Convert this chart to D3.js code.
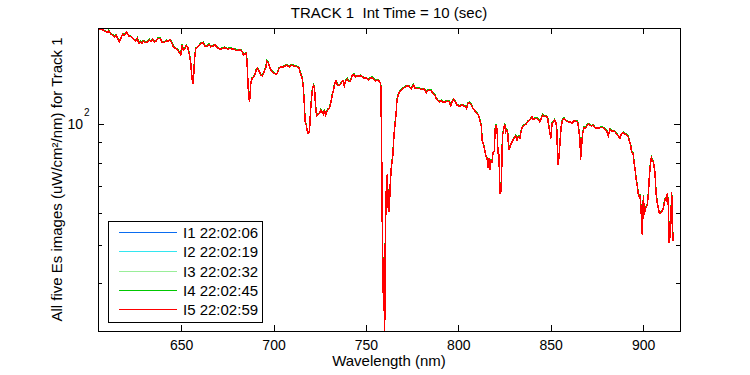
<!DOCTYPE html>
<html>
<head>
<meta charset="utf-8">
<script src="https://cdn.jsdelivr.net/npm/d3@7"></script>
<style>
  body { margin: 0; background: #fff; }
  svg { font-family: "Liberation Sans", Arial, sans-serif; }
  .axis text { font-size: 14px; fill: #000; }
  .axis line { stroke: #000; shape-rendering: crispEdges; }
  .label { font-size: 15px; fill: #000; white-space: pre; }
  .legend text { font-size: 15px; fill: #000; }
</style>
</head>
<body>
<svg></svg>
<script>
// wavelengths (nm)
const wavelengths = [
  605.4,606.5,607.5,608.4,610.3,610.8,612.0,613.0,613.8,614.8,
  615.7,616.5,617.5,618.4,619.2,620.5,621.6,622.9,624.1,625.2,
  626.3,627.0,627.9,628.8,629.5,630.6,631.9,632.8,633.7,634.6,
  635.5,636.4,637.5,638.6,639.7,640.9,642.2,643.3,644.0,645.1,
  645.8,646.9,648.2,649.0,649.8,650.5,651.2,652.0,652.7,653.6,
  654.5,655.2,655.7,656.3,656.8,657.3,657.9,658.8,659.7,660.6,
  661.9,662.8,663.9,665.1,666.0,667.3,668.4,669.6,671.1,672.3,
  673.6,675.0,676.5,677.8,679.0,680.1,681.4,682.3,683.2,683.7,
  684.5,685.2,685.6,685.9,686.4,687.0,687.3,687.7,688.4,689.1,
  689.9,690.6,691.3,692.2,693.1,694.0,694.9,695.8,696.4,697.1,
  697.8,698.6,699.4,700.3,701.3,702.1,703.0,704.0,705.4,707.2,
  708.5,709.7,711.0,712.8,713.7,714.6,715.5,716.1,716.6,717.1,
  717.7,718.2,718.8,719.5,720.0,720.6,721.1,721.7,722.2,722.7,
  723.3,724.0,724.9,725.6,726.3,727.0,727.6,728.1,728.9,729.6,
  730.3,731.1,731.8,732.5,733.0,733.8,734.6,735.7,736.8,737.6,
  738.3,739.0,739.9,740.8,741.7,742.6,743.5,744.4,745.3,746.2,
  747.1,748.0,748.9,750.2,751.3,752.3,753.4,754.3,755.2,756.1,
  757.1,757.8,758.1,758.5,758.8,759.4,759.9,760.1,760.5,761.0,
  761.6,762.1,762.6,763.2,763.7,764.6,765.2,765.7,766.3,766.8,
  767.5,768.2,769.1,770.1,771.1,772.2,773.1,773.6,774.6,775.3,
  775.8,776.7,777.6,778.9,779.8,780.9,782.0,782.7,783.4,784.5,
  785.4,786.3,787.2,788.1,789.0,789.9,790.8,791.7,793.5,794.4,
  795.3,795.8,796.6,797.5,798.4,799.3,800.2,801.1,802.0,802.9,
  804.0,804.5,805.3,806.0,806.9,807.8,808.7,809.4,810.1,810.9,
  811.4,811.9,812.5,812.9,813.4,814.0,814.5,815.0,815.6,816.1,
  816.6,817.2,817.7,818.2,818.8,819.5,819.9,820.4,821.0,821.5,
  822.0,822.4,822.7,823.3,823.7,824.0,824.6,825.1,825.7,826.2,
  826.7,827.1,827.6,828.2,828.9,829.6,830.4,831.1,831.8,832.5,
  833.3,834.0,834.7,835.6,836.6,837.5,838.4,839.3,839.9,840.6,
  841.5,842.6,843.4,844.2,844.9,845.6,846.5,847.4,848.3,848.9,
  849.6,850.2,850.7,851.4,852.1,852.9,853.4,853.7,854.1,854.6,
  855.2,855.7,856.4,857.3,858.2,859.3,860.4,861.5,862.6,863.7,
  864.6,865.1,865.9,866.2,866.6,867.3,868.1,868.8,869.5,870.3,
  871.3,872.1,873.1,874.0,874.9,876.7,877.6,879.0,880.3,881.2,
  882.1,883.0,883.9,884.8,885.7,886.6,887.5,888.1,888.8,889.5,
  890.3,891.1,892.0,892.7,893.3,893.8,894.6,895.1,895.7,896.2,
  896.9,897.5,898.0,898.5,899.1,899.6,900.2,900.7,901.3,901.8,
  902.3,902.9,903.4,904.0,904.5,905.0,905.7,906.5,907.0,907.6,
  908.3,908.8,909.4,910.1,911.0,911.6,912.1,912.6,913.2,913.7,
  914.1,914.4,914.8,915.2,915.5,915.9,916.3
];

// I5 (red, drawn on top)
const i5Values = [
  172.3,172.3,172.1,170.9,169.5,171.1,167.6,166.9,165.2,166.9,
  163.1,160.5,164.4,167.6,166.9,169.5,166.2,165.2,163.1,161.2,
  163.8,159.1,160.5,159.1,161.2,160.0,160.5,162.2,160.5,162.8,
  160.5,161.2,163.8,163.8,160.0,160.0,161.5,161.2,162.2,159.1,
  156.0,154.6,153.1,150.8,148.8,157.6,153.1,154.0,157.0,155.2,
  148.8,141.8,132.9,125.8,132.9,145.9,154.6,155.2,157.0,159.1,
  159.6,156.7,156.0,158.2,156.0,156.7,157.6,155.2,153.7,154.6,
  155.2,154.0,154.6,154.0,153.7,152.5,153.1,153.1,151.1,148.8,
  149.6,150.2,144.5,135.1,120.4,113.3,118.2,126.4,130.2,130.7,
  132.6,136.5,137.8,135.7,132.6,131.8,135.1,138.3,143.7,142.6,
  139.0,136.5,135.1,133.9,133.1,133.9,137.8,139.0,139.0,140.4,
  139.0,140.4,139.8,139.0,138.2,133.9,130.2,124.0,113.7,101.3,
  99.4,96.1,94.8,96.1,107.3,116.4,122.8,124.7,122.8,111.6,
  104.9,105.7,106.4,108.4,107.0,105.7,108.4,105.3,107.3,109.0,
  109.5,113.7,118.2,121.6,125.7,128.1,125.2,124.7,127.1,128.1,
  124.7,128.1,129.6,127.6,128.1,132.1,133.1,131.3,131.8,131.8,
  132.1,131.3,130.2,130.2,128.8,130.2,130.7,129.6,128.1,128.8,
  128.1,126.4,124.0,89.5,59.3,37.7,36.0,27.0,51.8,67.6,
  74.9,61.6,60.4,71.0,77.5,83.7,93.9,99.4,105.3,114.8,
  118.2,120.5,121.6,122.8,123.5,124.5,124.5,123.5,122.3,124.5,
  125.2,122.8,122.8,122.8,122.1,122.3,121.6,119.9,121.1,121.6,
  121.1,119.3,118.2,115.9,114.3,113.7,114.3,113.5,113.7,114.1,
  113.7,110.5,113.7,115.3,113.7,111.6,111.0,111.0,111.6,111.0,
  110.5,109.5,112.7,113.1,112.0,109.5,108.4,107.3,106.4,105.3,
  103.3,101.3,98.5,91.2,89.5,87.5,85.3,82.8,82.0,77.5,
  82.0,77.0,81.3,79.8,84.8,85.3,96.6,99.4,97.0,84.5,
  83.7,72.4,66.8,68.4,86.1,93.9,97.0,100.0,95.7,96.6,
  95.7,89.5,86.1,88.6,89.8,91.2,92.4,93.4,91.2,93.0,
  92.1,95.7,98.5,99.4,99.8,101.3,101.9,103.3,104.3,102.7,
  103.3,103.3,102.7,101.3,103.3,105.3,104.3,104.7,103.9,99.4,
  94.8,92.1,100.4,101.3,102.3,100.8,95.7,83.7,79.0,83.7,
  92.1,98.5,102.7,103.3,101.9,101.3,101.3,100.4,101.9,101.7,
  101.3,97.6,91.2,81.3,86.9,94.8,98.1,97.6,98.9,100.0,
  99.4,98.9,99.4,97.9,97.6,97.9,98.1,97.6,96.2,93.3,
  97.0,96.2,96.2,95.7,94.4,93.3,92.1,93.9,94.8,95.1,
  94.4,93.9,93.0,90.3,88.6,85.2,84.5,80.5,77.0,73.1,
  69.9,66.5,65.6,66.5,58.7,52.8,66.1,59.3,61.6,62.2,
  62.8,67.2,73.8,79.6,82.4,81.3,80.0,75.2,67.6,63.9,
  61.6,60.0,59.8,60.4,61.6,63.9,65.2,64.6,67.2,62.2,
  50.4,57.0,51.8,61.0,67.6,55.7,51.0
];

// I4 (green) peeks out just above the red trace
const i4Values = [
  172.8,172.8,172.6,171.4,170.0,171.6,168.1,167.4,165.7,167.4,
  163.6,161.0,164.9,168.1,167.4,170.0,166.7,165.7,163.6,161.7,
  164.3,159.6,161.0,159.6,161.7,160.5,161.0,162.7,161.0,163.3,
  161.0,161.7,164.3,164.3,160.5,160.5,162.0,161.7,162.7,159.6,
  156.5,155.1,153.6,151.3,149.3,158.1,153.6,154.5,157.5,155.7,
  149.3,142.3,133.3,126.2,133.3,146.4,155.1,155.7,157.5,159.6,
  160.1,157.2,156.5,158.7,156.5,157.2,158.1,155.7,154.2,155.1,
  155.7,154.5,155.1,154.5,154.2,153.0,153.6,153.6,151.6,149.3,
  150.1,150.7,145.0,135.5,120.8,113.7,118.6,126.8,130.6,131.1,
  133.0,136.9,138.2,136.1,133.0,132.2,135.5,138.7,144.2,143.1,
  139.4,136.9,135.5,134.3,133.5,134.3,138.2,139.4,139.4,140.9,
  139.4,140.9,140.3,139.4,138.6,134.3,130.6,124.4,114.1,101.6,
  99.7,96.4,95.1,96.4,107.6,116.8,123.2,125.1,123.2,112.0,
  105.2,106.0,106.7,108.7,107.3,106.0,108.7,105.6,107.6,109.3,
  109.8,114.1,118.6,122.0,126.1,128.5,125.6,125.1,127.5,128.5,
  125.1,128.5,130.0,128.0,128.5,132.5,133.5,131.7,132.2,132.2,
  132.5,131.7,130.6,130.6,129.2,130.6,131.1,130.0,128.5,129.2,
  128.5,126.8,124.4,89.8,59.5,37.9,36.2,27.2,52.0,67.8,
  75.1,61.8,60.6,71.2,77.7,84.0,94.2,99.7,105.6,115.2,
  118.6,120.9,122.0,123.2,123.9,124.9,124.9,123.9,122.7,124.9,
  125.6,123.2,123.2,123.2,122.5,122.7,122.0,120.3,121.5,122.0,
  121.5,119.7,118.6,116.3,114.7,114.1,114.7,113.9,114.1,114.5,
  114.1,110.9,114.1,115.7,114.1,112.0,111.4,111.4,112.0,111.4,
  110.9,109.8,113.1,113.5,112.4,109.8,108.7,107.6,106.7,105.6,
  103.6,101.6,98.8,91.5,89.8,87.8,85.6,83.1,82.3,77.7,
  82.3,77.2,81.6,80.0,85.1,85.6,96.9,99.7,97.3,84.8,
  84.0,72.6,67.0,68.6,86.4,94.2,97.3,100.3,96.0,96.9,
  96.0,89.8,86.4,88.9,90.1,91.5,92.7,93.7,91.5,93.3,
  92.4,96.0,98.8,99.7,100.1,101.6,102.2,103.6,104.6,103.0,
  103.6,103.6,103.0,101.6,103.6,105.6,104.6,105.0,104.2,99.7,
  95.1,92.4,100.7,101.6,102.6,101.1,96.0,84.0,79.2,84.0,
  92.4,98.8,103.0,103.6,102.2,101.6,101.6,100.7,102.2,102.0,
  101.6,97.9,91.5,81.6,87.2,95.1,98.4,97.9,99.2,100.3,
  99.7,99.2,99.7,98.2,97.9,98.2,98.4,97.9,96.5,93.6,
  97.3,96.5,96.5,96.0,94.7,93.6,92.4,94.2,95.1,95.4,
  94.7,94.2,93.3,90.6,88.9,85.5,84.8,80.8,77.2,73.3,
  70.1,66.7,65.8,66.7,58.9,53.0,66.3,59.5,61.8,62.4,
  63.0,67.4,74.0,79.8,82.7,81.6,80.2,75.4,67.8,64.1,
  61.8,60.2,60.0,60.6,61.8,64.1,65.4,64.8,67.4,62.4,
  50.6,57.2,52.0,61.2,67.8,55.9,51.2
];

// I1..I3 lie under the red trace in the picture
const i1Values = i5Values;
const i2Values = i5Values;
const i3Values = i5Values;

const seriesNames = ["I1 22:02:06", "I2 22:02:19", "I3 22:02:32", "I4 22:02:45", "I5 22:02:59"];
const seriesColors = ["#0a6cf0", "#33e6f0", "#99ee99", "#00c800", "#ff0000"];
const xTicks = [650, 700, 750, 800, 850, 900];
const yMinorTicks = [40, 50, 60, 70, 80, 90];
const yMajorTicks = [100];

function drawChart() {
    const svgWidth = 750, svgHeight = 375;
    const margin = { top: 28, right: 70, bottom: 44, left: 98 };
    const width = svgWidth - margin.left - margin.right;
    const height = svgHeight - margin.top - margin.bottom;

    const svg = d3.select("svg")
        .attr("width", svgWidth)
        .attr("height", svgHeight);

    const x = d3.scaleLinear().domain([605, 920]).range([0, width]);
    const y = d3.scaleLog().domain([30.4, 173.8]).range([height, 0]);

    svg.append("defs").append("clipPath")
        .attr("id", "plot-clip")
        .append("rect")
        .attr("width", width).attr("height", height);

    const g = svg.append("g")
        .attr("transform", `translate(${margin.left}, ${margin.top})`);

    const allValues = [i1Values, i2Values, i3Values, i4Values, i5Values];
    const series = seriesNames.map((name, k) => ({ name, color: seriesColors[k], values: allValues[k] }));

    const line = d3.line()
        .x((d, i) => x(wavelengths[i]))
        .y(d => y(d));

    // spectra, aliased like the original plot
    g.append("g")
        .attr("clip-path", "url(#plot-clip)")
        .selectAll("path")
        .data(series)
        .join("path")
        .attr("fill", "none")
        .attr("stroke", d => d.color)
        .attr("stroke-width", 1.5)
        .attr("shape-rendering", "crispEdges")
        .attr("d", d => line(d.values.slice(0, wavelengths.length)));

    const noDomain = sel => sel.select(".domain").remove();

    // x axes, ticks pointing inward
    g.append("g")
        .attr("class", "axis")
        .attr("transform", `translate(0, ${height})`)
        .call(d3.axisBottom(x).tickValues(xTicks).tickSizeInner(-6).tickSizeOuter(0).tickPadding(9).tickFormat(d3.format("d")))
        .call(noDomain);

    g.append("g")
        .attr("class", "axis")
        .call(d3.axisTop(x).tickValues(xTicks).tickSizeInner(-6).tickSizeOuter(0).tickFormat(""))
        .call(noDomain);

    // y axes: minor and major ticks
    g.append("g")
        .attr("class", "axis")
        .call(d3.axisLeft(y).tickValues(yMinorTicks).tickSizeInner(-4).tickSizeOuter(0).tickFormat(""))
        .call(noDomain);
    g.append("g")
        .attr("class", "axis")
        .call(d3.axisLeft(y).tickValues(yMajorTicks).tickSizeInner(-6).tickSizeOuter(0).tickFormat(""))
        .call(noDomain);
    g.append("g")
        .attr("class", "axis")
        .attr("transform", `translate(${width}, 0)`)
        .call(d3.axisRight(y).tickValues(yMinorTicks).tickSizeInner(-4).tickSizeOuter(0).tickFormat(""))
        .call(noDomain);
    g.append("g")
        .attr("class", "axis")
        .attr("transform", `translate(${width}, 0)`)
        .call(d3.axisRight(y).tickValues(yMajorTicks).tickSizeInner(-6).tickSizeOuter(0).tickFormat(""))
        .call(noDomain);

    // 10^2 label
    yMajorTicks.forEach(v => {
        g.append("text")
            .attr("class", "label")
            .attr("x", -15).attr("y", y(v) + 5)
            .attr("text-anchor", "end")
            .style("font-size", "14px")
            .text("10");
        g.append("text")
            .attr("class", "label")
            .attr("x", -14).attr("y", y(v) - 8)
            .style("font-size", "10px")
            .text(Math.round(Math.log10(v)));
    });

    // box
    g.append("rect")
        .attr("width", width).attr("height", height)
        .attr("fill", "none")
        .attr("stroke", "#000")
        .attr("shape-rendering", "crispEdges");

    // title
    svg.append("text")
        .attr("class", "label")
        .attr("x", margin.left + width / 2).attr("y", 18)
        .attr("text-anchor", "middle")
        .text("TRACK 1  Int Time = 10 (sec)");

    // x label
    svg.append("text")
        .attr("class", "label")
        .attr("x", margin.left + width / 2).attr("y", 366)
        .attr("text-anchor", "middle")
        .text("Wavelength (nm)");

    // y label
    svg.append("text")
        .attr("class", "label")
        .attr("transform", `translate(62, ${margin.top + height / 2}) rotate(-90)`)
        .attr("text-anchor", "middle")
        .text("All five Es images (uW/cm\u00b2/nm) for Track 1");

    // legend
    const legend = svg.append("g")
        .attr("class", "legend")
        .attr("transform", "translate(108, 221)");

    legend.append("rect")
        .attr("width", 154).attr("height", 101)
        .attr("fill", "#fff")
        .attr("stroke", "#000")
        .attr("shape-rendering", "crispEdges");

    const rowY = d3.scalePoint().domain(seriesNames).range([11.5, 88.5]);

    const item = legend.selectAll(".item")
        .data(series)
        .join("g")
        .attr("class", "item")
        .attr("transform", d => `translate(0, ${rowY(d.name)})`);

    item.append("line")
        .attr("x1", 11).attr("x2", 69)
        .attr("stroke", d => d.color)
        .attr("stroke-width", 1)
        .attr("shape-rendering", "crispEdges");

    item.append("text")
        .attr("x", 75).attr("y", 5.5)
        .text(d => d.name);
}

drawChart();
</script>
</body>
</html>
